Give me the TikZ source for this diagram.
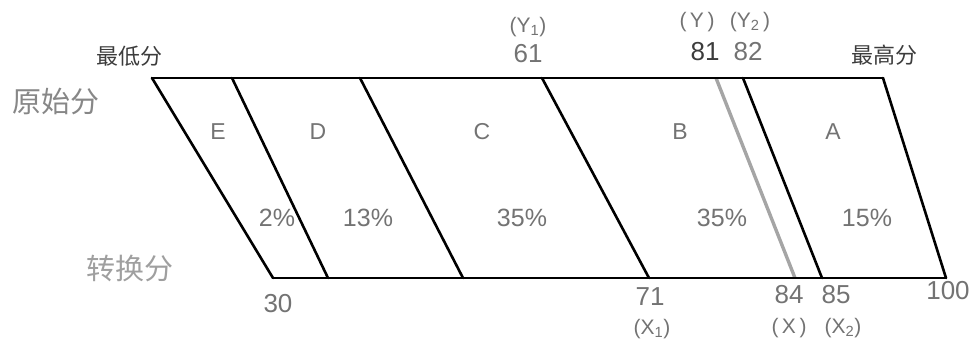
\documentclass[tikz,border=0pt]{standalone}
\usepackage{fontspec}
\setmainfont{Liberation Sans}
\newfontfamily\cjkfont{Noto Sans CJK SC}
\definecolor{labelgray}{RGB}{115,115,115}
\definecolor{rowgray}{RGB}{135,135,135}
\definecolor{endgray}{RGB}{60,60,60}
\definecolor{cutgray}{RGB}{165,165,165}
\begin{document}
\begin{tikzpicture}[x=1pt,y=-1pt,
  edge/.style={line width=2.6pt,line cap=round,line join=miter},
  cutline/.style={line width=3.4pt,draw=cutgray},
  gradelab/.style={inner sep=0pt,text=labelgray,font=\fontsize{23}{23}\selectfont},
  sharelab/.style={inner sep=0pt,text=labelgray,font=\fontsize{25}{25}\selectfont},
  scorelab/.style={inner sep=0pt,text=labelgray,font=\fontsize{26}{26}\selectfont},
  sublab/.style={inner sep=0pt,text=labelgray,font=\fontsize{21}{21}\selectfont},
  rowlab/.style={inner sep=0pt,text=rowgray,font=\cjkfont\fontsize{29}{29}\selectfont},
  endlab/.style={inner sep=0pt,text=endgray,font=\cjkfont\fontsize{22}{22}\selectfont}]
\useasboundingbox (0,0) rectangle (972,340);
\foreach \n/\tx/\bx in {0/152/273,1/232/328,2/360/463,3/542/649,4/743/822,5/883/946}{
  \coordinate (t\n) at (\tx,78);
  \coordinate (b\n) at (\bx,278);
}
\coordinate (ty) at (716,78);
\coordinate (by) at (795,278);
\draw[cutline] (ty) -- (by);
\draw[edge] (t0) -- (t5);
\draw[edge] (b0) -- (b5);
\foreach \n in {0,...,5}{
  \draw[edge] (t\n) -- (b\n);
}
\foreach \g/\x in {E/218,D/318,C/482,B/680,A/833}{
  \node[gradelab] (grade\g) at (\x,132) {\g};
}
\foreach \k/\x/\p in {e/277/2,d/368/13,c/522/35,b/722/35,a/867/15}{
  \node[sharelab] (share\k) at (\x,218) {\p\%};
}
\node[endlab] (lowest) at (129,56) {最低分};
\node[endlab] (highest) at (884,55) {最高分};
\node[rowlab] (rawrow) at (56,102) {原始分};
\node[rowlab,text=rowgray!80] (convrow) at (130,268) {转换分};
\node[scorelab] (ya) at (528,54) {61};
\node[sublab] (yalab) at (528,27) {(Y\textsubscript{1})};
\node[scorelab,text=endgray] (yy) at (705,52) {81};
\node[sublab] (yylab) at (697,22) {(\,Y\,)};
\node[scorelab] (yb) at (748,52) {82};
\node[sublab] (yblab) at (750,22) {(Y\textsubscript{2}\,)};
\node[scorelab] (xlow) at (278,304) {30};
\node[scorelab] (xa) at (650,297) {71};
\node[sublab] (xalab) at (652,329) {(X\textsubscript{1})};
\node[scorelab] (xx) at (789,295) {84};
\node[sublab] (xxlab) at (789,328) {(\,X\,)};
\node[scorelab] (xb) at (836,295) {85};
\node[sublab] (xblab) at (843,328) {(X\textsubscript{2})};
\node[scorelab] (xhigh) at (948,291) {100};
\end{tikzpicture}
\end{document}
